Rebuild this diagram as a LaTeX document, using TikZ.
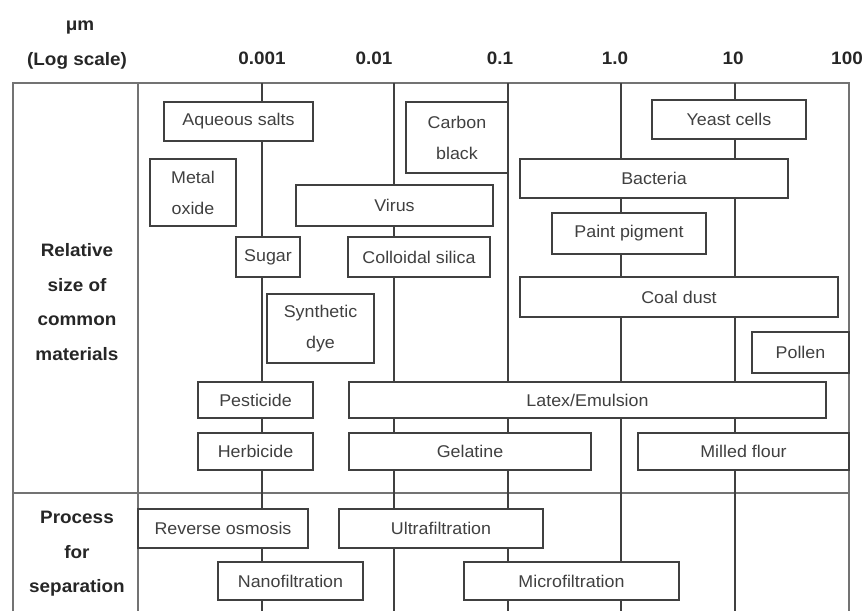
\documentclass[tikz,border=0pt]{standalone}
\usepackage{fontspec}
\setmainfont[FakeStretch=1.05]{Liberation Sans}
\newcommand\szbox[6]{%
  \node[matbox, minimum width={(#4-#2)*1pt}, minimum height={(#5-#3)*1pt}]
    (#1) at ({(#2+#4)/2},{(#3+#5)/2}) {#6};}
\begin{document}
\begin{tikzpicture}[x=1pt,y=-1pt,
  framel/.style={draw=black!55, line width=2pt},
  gridl/.style={draw=black!75, line width=1.4pt},
  matbox/.style={draw=black!75, fill=white, line width=1.4pt, inner sep=0pt,
    align=center, text=black!75, font=\fontsize{17}{31}\selectfont},
  head/.style={inner sep=0pt, text=black!85, font=\bfseries\fontsize{18}{20}\selectfont},
  side/.style={inner sep=0pt, text=black!85, align=center, font=\bfseries\fontsize{18}{34.5}\selectfont}]
\useasboundingbox (0,0) rectangle (864,611);
% header
\node[head] (um) at (80,27) {μm};
\node[head] (logs) at (77,61) {(Log scale)};
\node[head] (t1) at (262,58) {0.001};
\node[head] (t2) at (374,58) {0.01};
\node[head] (t3) at (500,58) {0.1};
\node[head] (t4) at (615,58) {1.0};
\node[head] (t5) at (733,58) {10};
\node[head] (t6) at (847,58) {100};
% frame
\draw[framel] (13,611) -- (13,83) -- (849,83) -- (849,611);
\draw[framel] (13,493) -- (849,493);
\draw[framel] (138,83) -- (138,611);
% grid lines
\foreach \gx in {262,394,508,621,735}
  \draw[gridl] (\gx,83) -- (\gx,611);
% side labels
\node[side] (rel) at (77,302) {Relative\\size of\\common\\materials};
\node[side] (proc) at (77,554) {Process\\for\\separation};
% material boxes
\szbox{aq}{164}{102}{313}{141}{Aqueous salts}
\szbox{cb}{406}{102}{508}{173}{Carbon\\black}
\szbox{ye}{652}{100}{806}{139}{Yeast cells}
\szbox{mo}{150}{159}{236}{226}{Metal\\oxide}
\szbox{ba}{520}{159}{788}{198}{Bacteria}
\szbox{vi}{296}{185}{493}{226}{Virus}
\szbox{pp}{552}{213}{706}{254}{Paint pigment}
\szbox{su}{236}{237}{300}{277}{Sugar}
\szbox{cs}{348}{237}{490}{277}{Colloidal silica}
\szbox{cd}{520}{277}{838}{317}{Coal dust}
\szbox{sd}{267}{294}{374}{363}{Synthetic\\dye}
\szbox{po}{752}{332}{849}{373}{Pollen}
\szbox{pe}{198}{382}{313}{418}{Pesticide}
\szbox{le}{349}{382}{826}{418}{Latex/Emulsion}
\szbox{he}{198}{433}{313}{470}{Herbicide}
\szbox{ge}{349}{433}{591}{470}{Gelatine}
\szbox{mf}{638}{433}{849}{470}{Milled flour}
% process boxes
\szbox{ro}{138}{509}{308}{548}{Reverse osmosis}
\szbox{uf}{339}{509}{543}{548}{Ultrafiltration}
\szbox{nf}{218}{562}{363}{600}{Nanofiltration}
\szbox{mi}{464}{562}{679}{600}{Microfiltration}
\end{tikzpicture}
\end{document}
